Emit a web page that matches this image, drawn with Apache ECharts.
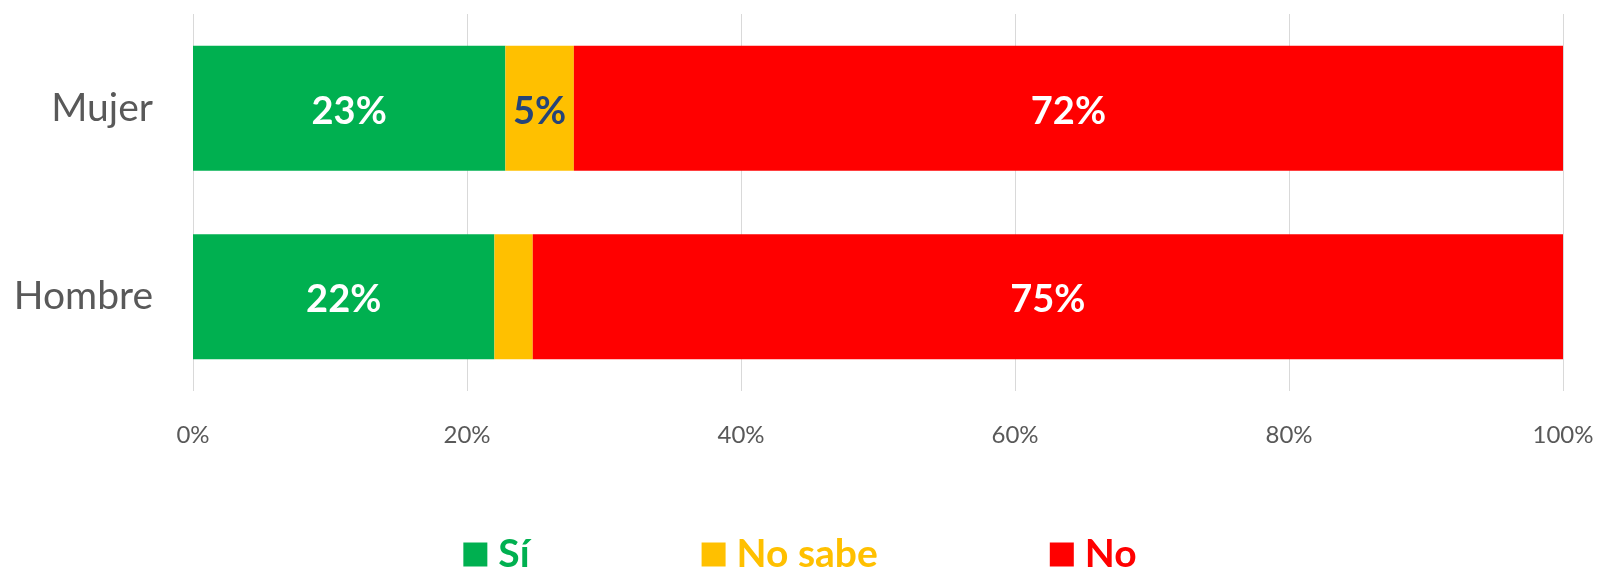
<!DOCTYPE html>
<html>
<head>
<meta charset="utf-8">
<style>
  html, body { margin: 0; padding: 0; background: #fff; }
  #chart { width: 1600px; height: 569px; }
</style>
<script src="https://cdn.jsdelivr.net/npm/echarts@6/dist/echarts.min.js"></script>
</head>
<body>
<div id="chart"></div>
<script>
  // bottom to top, as drawn on the category axis
  const categories = ['Hombre', 'Mujer']
  const si = [22, 22.8]
  const noSabe = [2.8, 5]
  const no = [75.2, 72.2]
  const ticks = [0, 20, 40, 60, 80, 100]

  const font = 'Lato'
  const chart = echarts.init(document.getElementById('chart'))

  function barLabel(color) {
    return {
      show: true,
      position: 'inside',
      offset: [0, 3],
      color: color,
      fontFamily: font,
      fontWeight: 'bold',
      fontSize: 38,
      // tiny segments carry no label in the original
      formatter: p => (p.value < 4 ? '' : Math.round(p.value) + '%')
    }
  }

  chart.setOption({
    animation: false,
    grid: {
      left: 193,
      right: 37,
      top: 14,
      bottom: 178
    },
    legend: {
      left: 'center',
      top: 530,
      itemWidth: 24,
      itemHeight: 24,
      itemGap: 172,
      icon: 'rect',
      textStyle: {
        fontFamily: font,
        fontWeight: 'bold',
        fontSize: 39,
        padding: [0, 0, 0, 6]
      },
      data: [
        { name: 'Sí', textStyle: { color: '#00B050' } },
        { name: 'No sabe', textStyle: { color: '#FFC000' } },
        { name: 'No', textStyle: { color: '#FF0000' } }
      ]
    },
    xAxis: {
      type: 'value',
      min: ticks[0],
      max: ticks[ticks.length - 1],
      interval: 20,
      axisLine: { show: false },
      axisTick: { show: false },
      axisLabel: {
        margin: 32,
        color: '#595959',
        fontFamily: font,
        fontSize: 24,
        formatter: '{value}%'
      },
      splitLine: {
        show: true,
        lineStyle: { color: '#D9D9D9', width: 1 }
      }
    },
    yAxis: {
      type: 'category',
      data: categories,
      axisLine: { show: false },
      axisTick: { show: false },
      axisLabel: {
        margin: 40,
        color: '#595959',
        fontFamily: font,
        fontSize: 39
      }
    },
    series: [
      {
        name: 'Sí',
        type: 'bar',
        stack: 'total',
        barWidth: 125,
        itemStyle: { color: '#00B050' },
        label: barLabel('#FFFFFF'),
        data: si
      },
      {
        name: 'No sabe',
        type: 'bar',
        stack: 'total',
        barWidth: 125,
        itemStyle: { color: '#FFC000' },
        label: barLabel('#264478'),
        data: noSabe
      },
      {
        name: 'No',
        type: 'bar',
        stack: 'total',
        barWidth: 125,
        itemStyle: { color: '#FF0000' },
        label: barLabel('#FFFFFF'),
        data: no
      }
    ]
  })
</script>
</body>
</html>
